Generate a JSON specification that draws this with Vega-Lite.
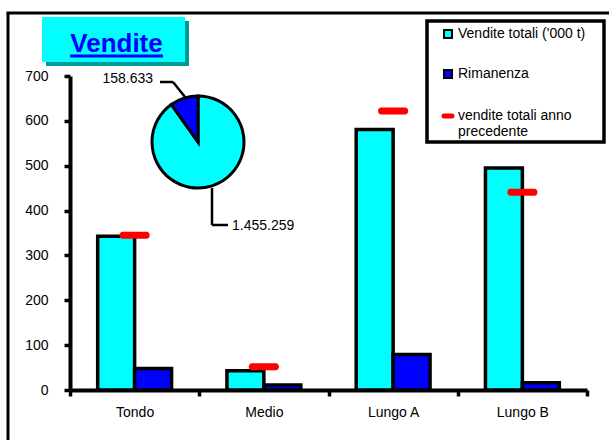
{
  "$schema": "https://vega.github.io/schema/vega-lite/v6.json",
  "width": 517,
  "height": 314,
  "autosize": {"type": "none"},
  "padding": {"left": 70, "top": 76, "right": 23, "bottom": 51},
  "background": "white",
  "view": {"stroke": null},
  "config": {
    "font": "Liberation Sans",
    "axis": {"domainColor": "black", "domainWidth": 4, "tickColor": "black", "tickWidth": 3.5, "tickSize": 6, "labelFontSize": 14, "labelColor": "black", "labelFont": "Liberation Sans", "grid": false, "title": null}
  },
  "datasets": {
    "vendite": [
      {"tipo": "Tondo", "serie": "Vendite totali ('000 t)", "valore": 343},
      {"tipo": "Tondo", "serie": "Rimanenza", "valore": 48},
      {"tipo": "Tondo", "serie": "vendite totali anno precedente", "valore": 345},
      {"tipo": "Medio", "serie": "Vendite totali ('000 t)", "valore": 43},
      {"tipo": "Medio", "serie": "Rimanenza", "valore": 11},
      {"tipo": "Medio", "serie": "vendite totali anno precedente", "valore": 52},
      {"tipo": "Lungo A", "serie": "Vendite totali ('000 t)", "valore": 581},
      {"tipo": "Lungo A", "serie": "Rimanenza", "valore": 79},
      {"tipo": "Lungo A", "serie": "vendite totali anno precedente", "valore": 622},
      {"tipo": "Lungo B", "serie": "Vendite totali ('000 t)", "valore": 495},
      {"tipo": "Lungo B", "serie": "Rimanenza", "valore": 16},
      {"tipo": "Lungo B", "serie": "vendite totali anno precedente", "valore": 441}
    ],
    "torta": [
      {"serie": "Vendite totali ('000 t)", "valore": 1455259, "etichetta": "1.455.259"},
      {"serie": "Rimanenza", "valore": 158633, "etichetta": "158.633"}
    ]
  },
  "layer": [
    {
      "data": {"values": [{}]},
      "mark": {"type": "rule", "color": "black", "strokeWidth": 3},
      "encoding": {"x": {"value": -62}, "y": {"value": -63}, "x2": {"value": -62}, "y2": {"value": 364}}
    },
    {
      "data": {"values": [{}]},
      "mark": {"type": "rule", "color": "black", "strokeWidth": 3},
      "encoding": {"x": {"value": -63.5}, "y": {"value": -63}, "x2": {"value": 539}, "y2": {"value": -63}}
    },
    {
      "data": {"values": [{}]},
      "mark": {"type": "rect", "fill": "#009999"},
      "encoding": {"x": {"value": -24}, "y": {"value": -55}, "x2": {"value": 119}, "y2": {"value": -10}}
    },
    {
      "data": {"values": [{}]},
      "mark": {"type": "rect", "fill": "#00FFFF"},
      "encoding": {"x": {"value": -28}, "y": {"value": -59}, "x2": {"value": 115}, "y2": {"value": -14}}
    },
    {
      "data": {"values": [{"testo": "Vendite"}]},
      "mark": {"type": "text", "font": "Liberation Sans", "fontSize": 26, "fontWeight": "bold", "color": "#0000FF", "align": "center", "baseline": "alphabetic"},
      "encoding": {"text": {"field": "testo"}, "x": {"value": 46.5}, "y": {"value": -24}}
    },
    {
      "data": {"values": [{}]},
      "mark": {"type": "rule", "color": "#0000FF", "strokeWidth": 3},
      "encoding": {"x": {"value": 0}, "x2": {"value": 93}, "y": {"value": -20}, "y2": {"value": -20}}
    },
    {
      "data": {"name": "vendite"},
      "transform": [{"filter": "datum.serie != 'vendite totali anno precedente'"}],
      "mark": {"type": "bar", "stroke": "black", "strokeWidth": 3.5, "strokeJoin": "miter"},
      "encoding": {
        "x": {
          "field": "tipo", "type": "nominal", "sort": ["Tondo", "Medio", "Lungo A", "Lungo B"],
          "scale": {"paddingInner": 0, "paddingOuter": 0},
          "axis": {"tickBand": "extent", "labelPadding": 9, "labelAngle": 0}
        },
        "xOffset": {"field": "serie", "type": "nominal", "scale": {"domain": ["Vendite totali ('000 t)", "Rimanenza"], "paddingOuter": 0.75, "paddingInner": 0}},
        "y": {
          "field": "valore", "type": "quantitative",
          "scale": {"domain": [0, 700], "nice": false},
          "axis": {"values": [0, 100, 200, 300, 400, 500, 600, 700], "labelPadding": 16}
        },
        "color": {
          "field": "serie", "type": "nominal",
          "scale": {"domain": ["Vendite totali ('000 t)", "Rimanenza", "vendite totali anno precedente"], "range": ["#00FFFF", "#0000FF", "#FF0000"]},
          "legend": {
            "title": null, "orient": "none", "legendX": 371, "legendY": -49, "padding": 0,
            "symbolType": "square", "symbolSize": 64, "symbolStrokeColor": "black", "symbolStrokeWidth": 2,
            "labelFontSize": 14, "labelFont": "Liberation Sans", "labelColor": "black", "labelOffset": 3, "labelLimit": 300,
            "rowPadding": 24,
            "labelExpr": "datum.label == 'vendite totali anno precedente' ? ['vendite totali anno', 'precedente'] : datum.label",
            "encode": {
              "symbols": {
                "update": {
                  "shape": {"signal": "datum.value == 'vendite totali anno precedente' ? 'stroke' : 'square'"},
                  "stroke": {"signal": "datum.value == 'vendite totali anno precedente' ? '#FF0000' : 'black'"},
                  "strokeWidth": {"signal": "datum.value == 'vendite totali anno precedente' ? 5 : 2"},
                  "strokeCap": {"value": "round"}
                }
              }
            }
          }
        }
      }
    },
    {
      "data": {"name": "vendite"},
      "transform": [{"filter": "datum.serie == 'vendite totali anno precedente'"}],
      "mark": {"type": "tick", "thickness": 7, "size": 30, "cornerRadius": 3, "opacity": 1},
      "encoding": {
        "x": {"field": "tipo", "type": "nominal", "sort": ["Tondo", "Medio", "Lungo A", "Lungo B"]},
        "y": {"field": "valore", "type": "quantitative"},
        "color": {"field": "serie", "type": "nominal"}
      }
    },
    {
      "data": {"name": "torta"},
      "mark": {"type": "arc", "outerRadius": 46, "stroke": "black", "strokeWidth": 3},
      "encoding": {
        "theta": {"field": "valore", "type": "quantitative", "stack": true},
        "color": {"field": "serie", "type": "nominal"},
        "order": {"field": "serie", "sort": "descending"},
        "x": {"value": 128},
        "y": {"value": 66}
      }
    },
    {
      "data": {"values": [{}]},
      "mark": {"type": "rule", "color": "black", "strokeWidth": 2.5},
      "encoding": {"x": {"value": 90}, "y": {"value": 6}, "x2": {"value": 103}, "y2": {"value": 6}}
    },
    {
      "data": {"values": [{}]},
      "mark": {"type": "rule", "color": "black", "strokeWidth": 2.5},
      "encoding": {"x": {"value": 103}, "y": {"value": 6}, "x2": {"value": 115}, "y2": {"value": 21}}
    },
    {
      "data": {"values": [{}]},
      "mark": {"type": "rule", "color": "black", "strokeWidth": 2.5},
      "encoding": {"x": {"value": 142}, "y": {"value": 112}, "x2": {"value": 142}, "y2": {"value": 149}}
    },
    {
      "data": {"values": [{}]},
      "mark": {"type": "rule", "color": "black", "strokeWidth": 2.5},
      "encoding": {"x": {"value": 142}, "y": {"value": 149}, "x2": {"value": 158}, "y2": {"value": 149}}
    },
    {
      "data": {"name": "torta"},
      "transform": [{"filter": "datum.serie == 'Rimanenza'"}],
      "mark": {"type": "text", "fontSize": 14, "font": "Liberation Sans", "color": "black", "align": "right", "baseline": "middle"},
      "encoding": {"text": {"field": "etichetta"}, "x": {"value": 83}, "y": {"value": 3}}
    },
    {
      "data": {"name": "torta"},
      "transform": [{"filter": "datum.serie != 'Rimanenza'"}],
      "mark": {"type": "text", "fontSize": 14, "font": "Liberation Sans", "color": "black", "align": "left", "baseline": "middle"},
      "encoding": {"text": {"field": "etichetta"}, "x": {"value": 162}, "y": {"value": 150}}
    },
    {
      "data": {"values": [{}]},
      "mark": {"type": "rect", "fill": null, "stroke": "black", "strokeWidth": 3.5},
      "encoding": {"x": {"value": 357}, "y": {"value": -55}, "x2": {"value": 534}, "y2": {"value": 66}}
    }
  ]
}
